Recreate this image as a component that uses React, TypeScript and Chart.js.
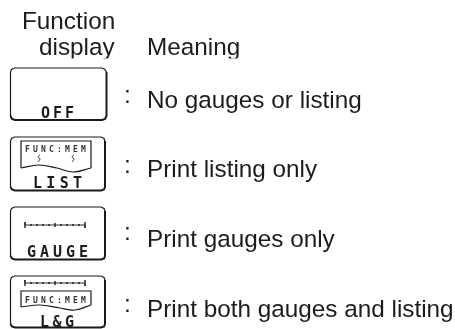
import React, { useEffect, useRef } from "react";
import { Chart, registerables } from "chart.js";

Chart.register(...registerables);

type P = { x: number; y: number };
type T = { text: string; x: number; y: number };

const WIDTH = 455;
const HEIGHT = 329;
const SANS = '"Liberation Sans", Arial, sans-serif';
const MONO = '"DejaVu Sans Mono", monospace';

// Text content
const headerLeft: T[] = [
  { text: "Function", x: 22, y: 29 },
  { text: "display", x: 39, y: 55 },
];
const headerRight: T[] = [{ text: "Meaning", x: 147, y: 55 }];
const meanings: T[] = [
  { text: "No gauges or listing", x: 147, y: 108 },
  { text: "Print listing only", x: 147, y: 177 },
  { text: "Print gauges only", x: 147, y: 247 },
  { text: "Print both gauges and listing", x: 147, y: 317 },
];
const colons: T[] = [
  { text: ":", x: 124, y: 103 },
  { text: ":", x: 124, y: 173 },
  { text: ":", x: 124, y: 240 },
  { text: ":", x: 124, y: 312 },
];
const captions: (T & { spacing: number })[] = [
  { text: "OFF", x: 41, y: 118, spacing: 3 },
  { text: "LIST", x: 33, y: 188, spacing: 4.3 },
  { text: "GAUGE", x: 27, y: 257, spacing: 4 },
  { text: "L&G", x: 40, y: 327, spacing: 3.5 },
];
const paperLabels: T[] = [
  { text: "FUNC:MEM", x: 25, y: 152 },
  { text: "FUNC:MEM", x: 25, y: 303 },
];

// Icon outlines
const frameThin: P[][] = [
  [{ x: 10.5, y: 116 }, { x: 10.5, y: 72 }, { x: 11.5, y: 69.5 }, { x: 14.5, y: 68 }, { x: 102, y: 68 }, { x: 105, y: 69.5 }, { x: 106.5, y: 72 }],
  [{ x: 10.5, y: 187 }, { x: 10.5, y: 141 }, { x: 11.5, y: 138.5 }, { x: 14.5, y: 137 }, { x: 101, y: 137 }, { x: 104, y: 138.5 }, { x: 105, y: 141 }],
  [{ x: 10.5, y: 256 }, { x: 10.5, y: 211 }, { x: 11.5, y: 208.5 }, { x: 14.5, y: 207 }, { x: 101, y: 207 }, { x: 104, y: 208.5 }, { x: 105, y: 211 }],
  [{ x: 10.5, y: 324 }, { x: 10.5, y: 280 }, { x: 11.5, y: 277.5 }, { x: 14.5, y: 276 }, { x: 101, y: 276 }, { x: 104, y: 277.5 }, { x: 105, y: 280 }],
];
const frameThick: P[][] = [
  [{ x: 10.5, y: 116 }, { x: 12, y: 119 }, { x: 15, y: 120 }, { x: 102, y: 120 }, { x: 105, y: 119 }, { x: 106.5, y: 116 }, { x: 106.5, y: 72 }],
  [{ x: 10.5, y: 187 }, { x: 12, y: 189.5 }, { x: 15, y: 190.5 }, { x: 101, y: 190.5 }, { x: 104, y: 189.5 }, { x: 105, y: 187 }, { x: 105, y: 141 }],
  [{ x: 10.5, y: 256 }, { x: 12, y: 258.5 }, { x: 15, y: 259.5 }, { x: 101, y: 259.5 }, { x: 104, y: 258.5 }, { x: 105, y: 256 }, { x: 105, y: 211 }],
  [{ x: 10.5, y: 324 }, { x: 12, y: 326.5 }, { x: 15, y: 327.5 }, { x: 101, y: 327.5 }, { x: 104, y: 326.5 }, { x: 105, y: 324 }, { x: 105, y: 280 }],
];
const papers: P[][] = [
  [{ x: 21, y: 168 }, { x: 21, y: 141 }, { x: 91, y: 141 }, { x: 91, y: 168 }],
  [{ x: 21, y: 307 }, { x: 21, y: 291 }, { x: 91, y: 291 }, { x: 91, y: 305 }],
];
const paperWaves: P[][] = [
  [{ x: 21, y: 168 }, { x: 39, y: 165 }, { x: 57, y: 168 }, { x: 73, y: 172 }, { x: 91, y: 168 }],
  [{ x: 21, y: 307 }, { x: 40, y: 305 }, { x: 60, y: 308 }, { x: 75, y: 310 }, { x: 91, y: 305 }],
];
const squiggles: P[][] = [
  [{ x: 40, y: 155 }, { x: 38, y: 157 }, { x: 40, y: 159 }, { x: 38, y: 162 }],
  [{ x: 74, y: 155 }, { x: 72, y: 157 }, { x: 74, y: 159 }, { x: 72, y: 162 }],
];
const gaugeA: P[] = [
  { x: 25, y: 222 }, { x: 25, y: 228 }, { x: 25, y: 225 },
  { x: 31, y: 225 }, { x: 31, y: 224 }, { x: 31, y: 226 }, { x: 31, y: 225 },
  { x: 37, y: 225 }, { x: 37, y: 224 }, { x: 37, y: 226 }, { x: 37, y: 225 },
  { x: 43, y: 225 }, { x: 43, y: 224 }, { x: 43, y: 226 }, { x: 43, y: 225 },
  { x: 49, y: 225 }, { x: 49, y: 224 }, { x: 49, y: 226 }, { x: 49, y: 225 },
  { x: 55, y: 225 }, { x: 55, y: 223 }, { x: 55, y: 227 }, { x: 55, y: 225 },
  { x: 61, y: 225 }, { x: 61, y: 224 }, { x: 61, y: 226 }, { x: 61, y: 225 },
  { x: 67, y: 225 }, { x: 67, y: 224 }, { x: 67, y: 226 }, { x: 67, y: 225 },
  { x: 73, y: 225 }, { x: 73, y: 224 }, { x: 73, y: 226 }, { x: 73, y: 225 },
  { x: 79, y: 225 }, { x: 79, y: 224 }, { x: 79, y: 226 }, { x: 79, y: 225 },
  { x: 85, y: 225 }, { x: 85, y: 222 }, { x: 85, y: 228 },
];
const gaugeB: P[] = [
  { x: 25, y: 280 }, { x: 25, y: 286 }, { x: 25, y: 283 },
  { x: 31, y: 283 }, { x: 31, y: 282 }, { x: 31, y: 284 }, { x: 31, y: 283 },
  { x: 37, y: 283 }, { x: 37, y: 282 }, { x: 37, y: 284 }, { x: 37, y: 283 },
  { x: 43, y: 283 }, { x: 43, y: 282 }, { x: 43, y: 284 }, { x: 43, y: 283 },
  { x: 49, y: 283 }, { x: 49, y: 282 }, { x: 49, y: 284 }, { x: 49, y: 283 },
  { x: 55, y: 283 }, { x: 55, y: 281 }, { x: 55, y: 285 }, { x: 55, y: 283 },
  { x: 61, y: 283 }, { x: 61, y: 282 }, { x: 61, y: 284 }, { x: 61, y: 283 },
  { x: 67, y: 283 }, { x: 67, y: 282 }, { x: 67, y: 284 }, { x: 67, y: 283 },
  { x: 73, y: 283 }, { x: 73, y: 282 }, { x: 73, y: 284 }, { x: 73, y: 283 },
  { x: 79, y: 283 }, { x: 79, y: 282 }, { x: 79, y: 284 }, { x: 79, y: 283 },
  { x: 85, y: 283 }, { x: 85, y: 280 }, { x: 85, y: 286 },
];

const lineSet = (data: P[], borderWidth: number, tension = 0) => ({
  type: "scatter" as const,
  data,
  showLine: true,
  borderColor: "#1a1a1a",
  backgroundColor: "#1a1a1a",
  borderWidth,
  tension,
  pointRadius: 0,
  clip: false,
});

const textPlugin = {
  id: "diagramText",
  afterDatasetsDraw(chart: any) {
    const { ctx, scales } = chart;
    const px = (v: number) => scales.x.getPixelForValue(v);
    const py = (v: number) => scales.y.getPixelForValue(v);
    const put = (t: T, font: string, color = "#1c1c1c", spacing = 0) => {
      ctx.font = font;
      ctx.fillStyle = color;
      ctx.textAlign = "left";
      ctx.textBaseline = "alphabetic";
      (ctx as any).letterSpacing = `${spacing}px`;
      ctx.fillText(t.text, px(t.x), py(t.y));
    };
    ctx.save();
    // the header row is cut off just under its baseline
    ctx.save();
    ctx.beginPath();
    ctx.rect(0, 0, WIDTH, py(58.5));
    ctx.clip();
    headerLeft.forEach((t) => put(t, `24.3px ${SANS}`));
    headerRight.forEach((t) => put(t, `24.3px ${SANS}`));
    ctx.restore();
    meanings.forEach((t) => put(t, `24.3px ${SANS}`));
    colons.forEach((t) => put(t, `24.3px ${SANS}`));
    captions.forEach((t) => put(t, `bold 15px ${MONO}`, "#1c1c1c", t.spacing));
    paperLabels.forEach((t) => put(t, `bold 8px ${MONO}`, "#333333", 3.2));
    ctx.restore();
  },
};

export default function App() {
  const ref = useRef<HTMLCanvasElement>(null);
  useEffect(() => {
    document.body.style.margin = "0";
    const chart = new Chart(ref.current!, {
      type: "scatter",
      data: {
        datasets: [
          ...frameThin.map((d) => lineSet(d, 1.2)),
          ...frameThick.map((d) => lineSet(d, 2)),
          ...papers.map((d) => lineSet(d, 1.2)),
          ...paperWaves.map((d) => lineSet(d, 1.2, 0.4)),
          ...squiggles.map((d) => lineSet(d, 0.9, 0.4)),
          lineSet(gaugeA, 0.9),
          lineSet(gaugeB, 0.9),
        ],
      },
      options: {
        responsive: false,
        animation: false,
        layout: { padding: 0 },
        plugins: { legend: { display: false }, tooltip: { enabled: false } },
        scales: {
          x: { type: "linear", min: 0, max: WIDTH, display: false },
          y: { type: "linear", min: 0, max: HEIGHT, reverse: true, display: false },
        },
      },
      plugins: [textPlugin],
    } as any);
    return () => chart.destroy();
  }, []);
  return <canvas ref={ref} width={WIDTH} height={HEIGHT} style={{ display: "block" }} />;
}
